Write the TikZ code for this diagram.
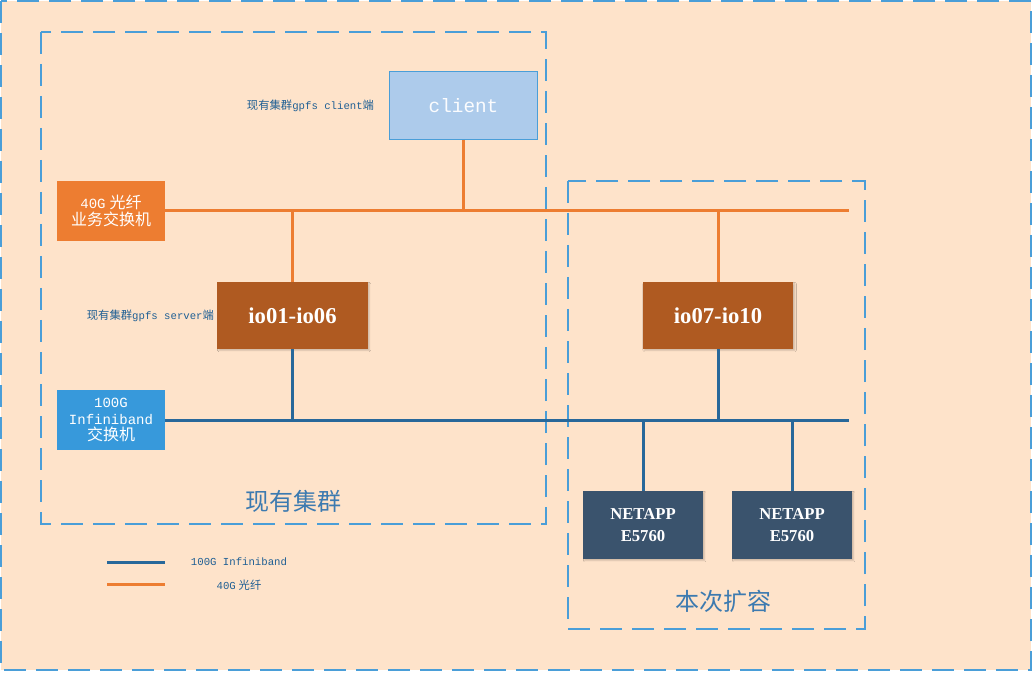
\documentclass[tikz,border=0pt]{standalone}
\usepackage{fontspec}
\setmainfont{Liberation Serif}
\setmonofont{Liberation Mono}
\newfontfamily\cjk{Noto Sans CJK SC}
\usepackage{tikz}
\usetikzlibrary{positioning,shadows.blur,calc}
\definecolor{fondPeche}{RGB}{254,227,202}
\definecolor{bleuCadre}{RGB}{74,158,216}
\definecolor{bleuClient}{RGB}{173,203,235}
\definecolor{orangeFibre}{RGB}{237,125,49}
\definecolor{bleuIB}{RGB}{40,104,154}
\definecolor{bleuSwitch}{RGB}{55,153,219}
\definecolor{brunServeur}{RGB}{175,90,33}
\definecolor{ardoiseBaie}{RGB}{58,83,109}
\definecolor{bleuTexte}{RGB}{31,95,148}
\definecolor{bleuGroupe}{RGB}{60,122,176}
\newcommand{\hanzi}[1]{{\cjk #1}}
\newcommand{\lat}[1]{{\ttfamily\fontsize{10.5}{12.5}\selectfont #1}}

\begin{document}
\begin{tikzpicture}[x=0.75pt,y=-0.75pt,
  cadre/.style={draw=bleuCadre,line width=1.5pt,dash pattern=on 16.5pt off 7.5pt},
  commut/.style={rectangle,minimum width=81pt,minimum height=45pt,inner sep=0pt,
                 text=white,align=center,font=\fontsize{12}{12.5}\selectfont},
  ombre/.style={blur shadow={shadow xshift=1.2pt,shadow yshift=-1.2pt,shadow blur radius=1pt,
                             shadow blur steps=3,shadow opacity=18}},
  serveur/.style={rectangle,fill=brunServeur,minimum width=113pt,minimum height=50pt,
                  text=white,font=\bfseries\fontsize{17}{20}\selectfont,ombre},
  baie/.style={rectangle,fill=ardoiseBaie,minimum width=90pt,minimum height=51pt,inner sep=0pt,
               text=white,align=center,font=\bfseries\fontsize{12.5}{16.5}\selectfont,ombre},
  fibre/.style={orangeFibre,line width=2.25pt},
  ib/.style={bleuIB,line width=2.25pt},
  etiq/.style={text=bleuTexte,inner sep=0pt,font=\fontsize{8.5}{10}\selectfont},
  groupe/.style={text=bleuGroupe,font=\cjk\fontsize{18}{20}\selectfont}]

  \useasboundingbox (0,0) rectangle (1034,673);
  % fond et cadres
  \fill[fondPeche] (1,1) rectangle (1031,670);
  \draw[cadre] (1,1) rectangle (1031,670);
  \draw[cadre] (41,32) rectangle (546,524);
  \draw[cadre] (568,181) rectangle (865,629);

  % noeuds
  \node[rectangle,fill=bleuClient,draw=bleuCadre,line width=0.75pt,minimum width=111pt,minimum height=51pt,
        text=white!95!bleuClient,font=\ttfamily\fontsize{14.5}{16}\selectfont] (CLI) at (463.5,105.5) {client};
  \node[commut,fill=orangeFibre] (SWF) at (111,211) {\lat{40G} \hanzi{光纤}\\\hanzi{业务交换机}};
  \node[commut,fill=bleuSwitch] (SWIB) at (111,420) {\lat{100G}\\\lat{Infiniband}\\\hanzi{交换机}};
  \node[serveur] (IOA) at (292.5,315.5) {io01-io06};
  \node[serveur] (IOB) at (718,315.5) {io07-io10};
  \node[baie] (NA1) at (643,525) {NETAPP\\E5760};
  \node[baie] (NA2) at (792,525) {NETAPP\\E5760};

  \node[etiq,left=11pt of CLI] (ECLI) {\hanzi{现有集群}\lat{\fontsize{8}{10}\selectfont gpfs client}\hanzi{端}};
  \node[etiq,left=2pt of IOA] (ESRV) {\hanzi{现有集群}\lat{\fontsize{8}{10}\selectfont gpfs server}\hanzi{端}};
  \node[groupe] (GA) at (293,501) {现有集群};
  \node[groupe] (GB) at (723,601) {本次扩容};

  % bus
  \coordinate (FINF) at (849,211);
  \coordinate (FINIB) at (849,420);
  \draw[fibre] (SWF.east) -- (FINF);
  \draw[fibre] (CLI.south) -- (CLI.south |- SWF.east);
  \draw[fibre] (IOA.north) -- (IOA.north |- SWF.east);
  \draw[fibre] (IOB.north) -- (IOB.north |- SWF.east);
  \draw[ib] (SWIB.east) -- (FINIB);
  \draw[ib] (IOA.south) -- (IOA.south |- SWIB.east);
  \draw[ib] (IOB.south) -- (IOB.south |- SWIB.east);
  \draw[ib] (NA1.north) -- (NA1.north |- SWIB.east);
  \draw[ib] (NA2.north) -- (NA2.north |- SWIB.east);

  % legende
  \coordinate (LIBa) at (107,562);
  \coordinate (LIBb) at (165,562);
  \coordinate (LFa) at (107,584);
  \coordinate (LFb) at (165,584);
  \draw[ib] (LIBa) -- (LIBb);
  \draw[fibre] (LFa) -- (LFb);
  \node[etiq] (TIB) at (239,562) {\lat{\fontsize{8}{10}\selectfont 100G Infiniband}};
  \node[etiq] (TF) at (239,585) {\lat{\fontsize{8}{10}\selectfont 40G} \hanzi{光纤}};
\end{tikzpicture}
\end{document}
